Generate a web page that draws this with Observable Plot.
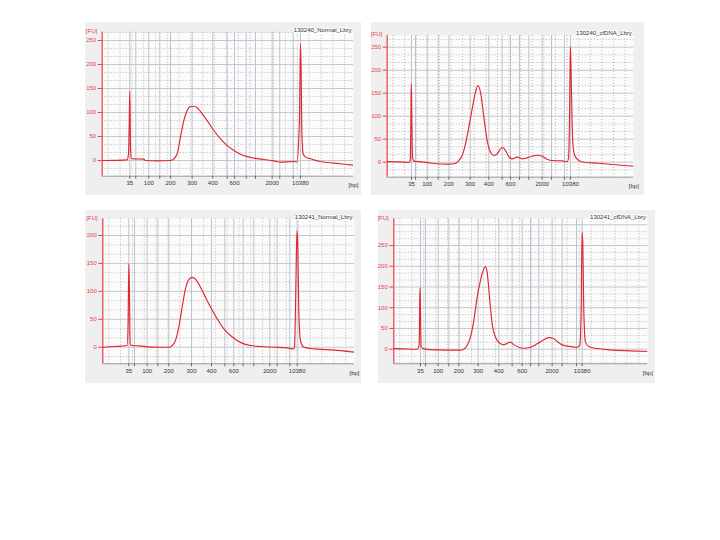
<!DOCTYPE html>
<html><head><meta charset="utf-8">
<script src="https://cdn.jsdelivr.net/npm/d3@7"></script>
<script src="https://cdn.jsdelivr.net/npm/@observablehq/plot@0.6"></script>
<style>
body{margin:0;background:#fff;width:720px;height:540px;position:relative;overflow:hidden;font-family:"Liberation Sans",Arial,sans-serif}
.panel{position:absolute;background:#efefef}
.panel svg{display:block}
</style></head><body>
<script>
// Ladder sizes (bp) and which ones carry a label
const ladderBp = [35, 50, 100, 150, 200, 300, 400, 500, 600, 700, 1000, 2000, 3000, 7000, 10380];
const labeledBp = [35, 100, 200, 300, 400, 600, 2000, 10380];
const titles = ["130240_Normal_Lbry", "130240_cfDNA_Lbry", "130241_Normal_Lbry", "130241_cfDNA_Lbry"];

// Ladder migration times (s) per sample
const ladder1 = [49.33, 51.36, 55.76, 59.48, 63.10, 70.44, 77.41, 82.28, 84.75, 88.70, 91.85, 97.49, 100.06, 104.60, 107.06];
const ladder2 = [48.38, 49.76, 53.78, 57.57, 61.25, 68.60, 75.03, 79.63, 82.50, 85.60, 88.82, 93.41, 96.63, 101.10, 103.17];
const ladder3 = [48.78, 50.70, 54.97, 58.58, 62.29, 69.95, 76.70, 81.20, 84.24, 87.40, 91.00, 96.40, 98.88, 103.16, 105.63];
const ladder4 = [48.92, 50.60, 54.84, 58.41, 61.75, 68.22, 75.14, 79.60, 82.95, 85.74, 88.52, 92.99, 96.33, 101.13, 103.03];

// Electropherogram traces: migration time (s) and fluorescence (FU)
const time1 = [40.00,48.44,48.89,49.12,49.34,49.57,49.80,50.70,54.08,54.64,58.59,63.10,64.23,65.36,66.48,67.61,68.74,69.86,70.99,72.12,73.25,75.50,77.76,80.01,82.27,84.52,86.78,89.03,91.29,94.67,98.05,100.30,104.80,105.94,106.50,106.73,106.96,107.07,107.29,107.52,107.97,108.76,110.45,111.58,113.83,118.34,122.85,125.00];
const fu1   = [0,1.4,13.9,69,144,28,4,3.5,2.8,0,-0.7,0,3.5,14,49,83,104,112.5,113,110,102,83,62.5,45,31,21,13,8,5,2,-0.7,-3.5,-2,-3.5,49,90,201,243,187,62,14,7,3.5,1.4,-2,-5.5,-8.3,-9.7];

const time2 = [40.00,44.02,47.47,47.93,48.16,48.27,48.38,48.50,48.73,49.19,50.91,55.51,61.25,63.55,64.69,65.84,66.99,68.14,69.29,70.44,71.24,72.16,73.31,74.46,75.61,76.76,77.90,79.05,79.86,80.78,81.92,83.07,84.80,85.60,86.52,87.67,89.96,91.69,93.41,95.13,96.86,100.30,102.02,102.48,102.83,103.06,103.17,103.40,103.75,104.09,104.67,106.04,108.34,112.94,117.53,125.00];
const fu2   = [1.4,0.7,-0.7,3.6,90.6,170.3,152.2,90.6,10.9,2.2,1.4,-2.2,-4.3,-2.2,3.6,14.5,39.9,76.1,115.9,152.2,166.7,152.2,97.8,47.1,21.7,14.5,18.1,29,31.9,25.4,12.3,7.2,10.9,10.1,7.2,8.7,13,15.2,13,6.5,3.6,2.9,1.4,7.2,90.6,221,250,192,83.3,32.6,14.5,3.6,-0.7,-2.2,-5.1,-8.7];

const time3 = [40.00,43.72,48.22,48.56,48.78,49.01,49.23,49.57,52.72,54.97,59.48,62.29,63.42,64.54,65.67,66.80,67.92,69.05,70.17,71.30,72.42,74.11,76.36,78.61,80.87,83.12,85.37,87.62,89.87,93.25,97.75,102.26,104.28,104.73,105.07,105.41,105.63,105.86,106.19,106.75,107.88,111.26,115.76,120.27,125.00];
const fu3   = [0,1.2,3,48,149,95.5,6,3,2.4,0.6,0,0,3,12,36,72,104.5,121,125,122,113,95.5,72,51,33,21,12,6,3,1.2,0,-1.2,-3,0,66,179,209,179,66,12,0,-3,-4.2,-6,-9];

const time4 = [40.00,43.35,47.81,48.48,48.70,48.81,48.92,49.15,50.04,54.50,62.31,63.43,64.54,65.66,66.77,67.89,69.00,70.12,70.68,71.23,72.13,72.91,74.02,75.70,76.81,77.93,79.04,80.16,81.83,83.50,85.74,87.97,90.20,91.87,93.32,94.66,96.33,99.12,101.35,102.24,102.69,103.02,103.25,103.58,104.14,105.26,108.05,112.51,119.20,125.00];
const fu4   = [1.6,0.8,0,9,125,148,93,6.4,0.8,-1.6,-2.4,0,9,29,69,125,165.6,193.7,199,185.7,117,61,29,13,10.5,14.5,16.9,11,4.8,2.4,4.8,13,23,28,26.5,19,10.5,6.4,4.8,9,93,282,254,93,17,6.4,1.6,-1.6,-4,-5.6];

const yTicksA = [0, 50, 100, 150, 200, 250];
const yTicksB = [0, 50, 100, 150, 200];

const panels = [
  {title: titles[0], ladder: ladder1, t: time1, fu: fu1, yTicks: yTicksA, yDomain: [-32.7, 267.3],
   left: 85, top: 22, w: 276, h: 173, mL: 16.7, mR: 8, mT: 9.7, mB: 19.3},
  {title: titles[1], ladder: ladder2, t: time2, fu: fu2, yTicks: yTicksA, yDomain: [-32.6, 275.4],
   left: 371, top: 22, w: 273, h: 173, mL: 15.7, mR: 10.7, mT: 13, mB: 18.3},
  {title: titles[2], ladder: ladder3, t: time3, fu: fu3, yTicks: yTicksB, yDomain: [-29.7, 229.9],
   left: 85, top: 210, w: 276, h: 173, mL: 17.3, mR: 7, mT: 8.3, mB: 19.7},
  {title: titles[3], ladder: ladder4, t: time4, fu: fu4, yTicks: yTicksA, yDomain: [-35.2, 314.4],
   left: 378, top: 210, w: 277, h: 173, mL: 15.3, mR: 7.7, mT: 8.3, mB: 19.7}
];

const RED = "#e0262e";
const AXISRED = "#e8404c";

for (const p of panels) {
  const data = p.t.map((t, i) => ({t, fu: p.fu[i]}));
  const labelOf = new Map(p.ladder.map((t, i) => [t, labeledBp.includes(ladderBp[i]) ? String(ladderBp[i]) : ""]));
  const step = 50 / 3;
  const dotY = d3.range(Math.ceil(p.yDomain[0] / step), Math.floor(p.yDomain[1] / step) + 1)
    .map(k => k * step).filter(v => Math.abs(v / 50 - Math.round(v / 50)) > 1e-6);
  const solidY = d3.range(0, p.yDomain[1], 50);
  const dotX = d3.range(42, 125, 4);

  const chart = Plot.plot({
    width: p.w, height: p.h,
    marginLeft: p.mL, marginRight: p.mR, marginTop: p.mT, marginBottom: p.mB,
    x: {domain: [40, 125], axis: null},
    y: {domain: p.yDomain, axis: null},
    style: {background: "transparent", fontSize: "6px", fontFamily: "Liberation Sans, Arial, sans-serif", overflow: "visible"},
    marks: [
      Plot.frame({fill: "#fbfbfb", stroke: null}),
      Plot.gridX({ticks: dotX, stroke: "#a8a8a8", strokeOpacity: 0.8, strokeDasharray: "1,2"}),
      Plot.gridY({ticks: dotY, stroke: "#a8a8a8", strokeOpacity: 0.8, strokeDasharray: "1,2"}),
      Plot.gridY({ticks: solidY, stroke: "#c4c7cd", strokeOpacity: 1}),
      Plot.ruleX(p.ladder, {stroke: "#bcc3d0", strokeWidth: 1}),
      Plot.ruleY([p.yDomain[0]], {stroke: "#999"}),
      Plot.axisX({ticks: p.ladder, tickFormat: d => labelOf.get(d), tickSize: 3, tickPadding: 2, label: null, stroke: "#666", fill: "#333"}),
      Plot.axisY({ticks: p.yTicks, tickSize: 4, tickPadding: 2, label: null, color: AXISRED}),
      Plot.ruleX([40], {stroke: AXISRED, strokeWidth: 1.2}),
      Plot.line(data, {x: "t", y: "fu", stroke: RED, strokeWidth: 1.15, curve: "monotone-x", clip: true}),
      Plot.text([p.title], {frameAnchor: "top-right", textAnchor: "end", lineAnchor: "middle", dx: -2, dy: -2, fill: "#333", stroke: "#fbfbfb", strokeWidth: 2, paintOrder: "stroke"}),
      Plot.text(["[FU]"], {frameAnchor: "top-left", textAnchor: "end", lineAnchor: "middle", dx: -5, dy: -1, fill: AXISRED}),
      Plot.text(["[bp]"], {frameAnchor: "bottom-right", textAnchor: "middle", lineAnchor: "middle", dy: 9, fill: "#333"})
    ]
  });
  const div = document.createElement("div");
  div.className = "panel";
  div.style.left = p.left + "px";
  div.style.top = p.top + "px";
  div.style.width = p.w + "px";
  div.style.height = p.h + "px";
  div.appendChild(chart);
  document.body.appendChild(div);
}
</script>
</body></html>
